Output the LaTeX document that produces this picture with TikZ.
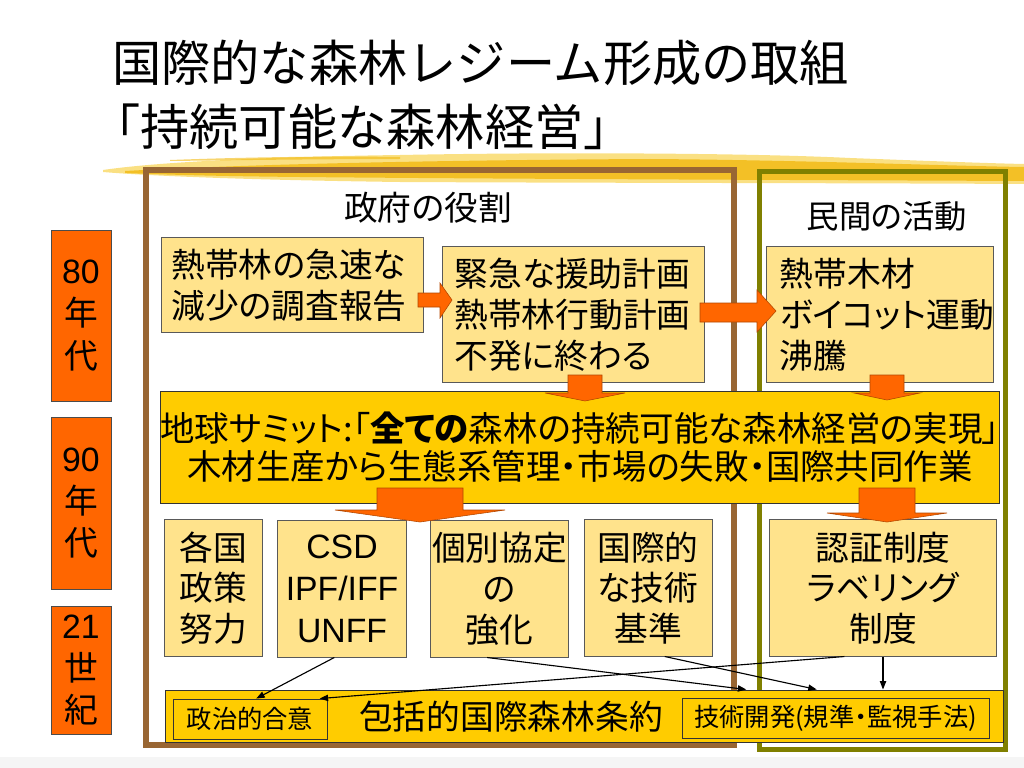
\documentclass[tikz,border=0pt]{standalone}
\usepackage{fontspec}
\setmainfont{Noto Sans CJK JP}[RawFeature=+palt]
\newfontfamily\titlefont{Noto Sans CJK JP}
\newfontfamily\latinfont{Liberation Sans}
\usepackage{tikz}
\usetikzlibrary{positioning}
\usetikzlibrary{calc,arrows.meta}
\definecolor{paleyel}{HTML}{FFE38C}
\definecolor{goldbar}{HTML}{FFCC00}
\definecolor{decorange}{HTML}{FF6600}
\definecolor{frmbrown}{HTML}{996633}
\definecolor{frmolive}{HTML}{808000}
\definecolor{brushgold}{HTML}{F2B90F}
\definecolor{brushlight}{HTML}{F8D65A}
\tikzset{
 ybox/.style={draw=black!65,fill=paleyel,line width=0.7pt,inner sep=0pt,
  font=\fontsize{24}{29}\selectfont},
 gbox/.style={draw=black!80,fill=goldbar,line width=0.7pt,inner sep=0pt},
 era/.style={draw=black!70,fill=decorange,line width=0.6pt,inner sep=0pt,
  minimum width=1.5cm,align=center,font=\fontsize{24}{30}\selectfont},
 blockarr/.style={fill=decorange,draw=decorange!70!black,line width=0.4pt},
 thinarr/.style={-{Triangle[length=6pt,width=4.5pt]},line width=0.8pt}
}

\begin{document}
\begin{tikzpicture}[x=0.025cm,y=-0.025cm]
 \useasboundingbox (0,0) rectangle (1024,768);
 \fill[black!4] (0,757) rectangle (1024,768);
 % title
 \node[anchor=west,inner sep=0pt,font=\titlefont\fontsize{35}{40}\selectfont] (title) at (112,63) {国際的な森林レジーム形成の取組};
 \node[anchor=west,inner sep=0pt,font=\titlefont\fontsize{35}{40}\selectfont] (subtitle) at (91,127) {「持続可能な森林経営」};
 % brush stroke
 \fill[brushlight,opacity=.75] (103,170) .. controls (150,163) and (250,157) .. (400,155) .. controls (550,152) and (750,153) .. (850,158) .. controls (930,161) and (980,163) .. (1024,164) -- (1024,184) .. controls (850,183) and (600,183) .. (400,182) .. controls (250,180) and (150,176) .. (103,172) -- cycle;
 \fill[brushgold,opacity=.8] (125,171) .. controls (250,164) and (450,160) .. (650,159) .. controls (800,160) and (950,166) .. (1024,167) -- (1024,181) .. controls (800,180) and (500,179) .. (300,177) .. controls (200,176) and (150,174) .. (125,173) -- cycle;
 \fill[brushgold,opacity=.6] (170,160) .. controls (250,157) and (330,156) .. (400,157) -- (400,159) .. controls (330,159) and (250,160) .. (170,161) -- cycle;
 % frames
 \draw[frmbrown,line width=4.3pt] (146,170) rectangle (734,745);
 \draw[frmolive,line width=3.6pt] (759.5,171.5) rectangle (1005.5,749.5);
 \node[font=\fontsize{24}{28}\selectfont] (govt) at (428,208) {政府の役割};
 \node[font=\fontsize{23}{28}\selectfont] (private) at (887,216) {民間の活動};
 % periods
 \node[era,minimum height=4.275cm] (eighties) at (81,315.5) {{\latinfont 80}\\年\\代};
 \node[era,minimum height=4.3cm] (nineties) at (81,503) {{\latinfont 90}\\年\\代};
 \node[era,minimum height=3.2cm] (century) at (81,670) {{\latinfont 21}\\世\\紀};
 % boxes
 \node[ybox,minimum width=6.525cm,minimum height=2.35cm,text width=6.05cm,align=left] (survey) at (292.5,285) {熱帯林の急速な\\減少の調査報告};
 \node[ybox,minimum width=6.525cm,minimum height=3.375cm,text width=5.95cm,align=left] (aidplan) at (573.5,314.5) {緊急な援助計画\\熱帯林行動計画\\不発に終わる};
 \node[ybox,minimum width=5.65cm,minimum height=3.375cm,text width=5.0cm,align=left] (boycott) at (880,314.5) {熱帯木材\\ボイコット運動\\沸騰};
 \node[gbox,minimum width=20.9cm,minimum height=2.775cm,align=center,font=\fontsize{24.5}{27}\selectfont] (summit) at (580,447.5) {地球サミット:「\textbf{全ての}森林の持続可能な森林経営の実現」\\木材生産から生態系管理・市場の失敗・国際共同作業};
 \node[ybox,minimum width=2.425cm,minimum height=3.4cm,align=center] (policy) at (213.5,588) {各国\\政策\\努力};
 \node[ybox,minimum width=3.2cm,minimum height=3.4cm,align=center,font=\latinfont\fontsize{24}{30}\selectfont] (csd) at (342,589) {CSD\\IPF/IFF\\UNFF};
 \node[ybox,minimum width=3.425cm,minimum height=3.4cm,align=center] (pact) at (499.5,589) {個別協定\\の\\強化};
 \node[ybox,minimum width=3.2cm,minimum height=3.4cm,align=center] (techstd) at (648,588) {国際的\\な技術\\基準};
 \node[ybox,minimum width=5.65cm,minimum height=3.4cm,align=center] (cert) at (883,588) {認証制度\\ラベリング\\制度};
 \node[gbox,minimum width=20.925cm,minimum height=1.3cm] (treaty) at (584.5,716) {};
 \node[font=\fontsize{24}{28}\selectfont] (treatylbl) at (511,717) {包括的国際森林条約};
 \node[draw=black!80,fill=goldbar,line width=0.6pt,inner sep=0pt,minimum width=3.85cm,minimum height=1cm,font=\fontsize{18}{20}\selectfont] (agree) at (250,719) {政治的合意};
 \node[draw=black!80,fill=goldbar,line width=0.6pt,inner sep=0pt,minimum width=7.675cm,minimum height=1cm,font=\fontsize{18}{20}\selectfont] (techdev) at (835.5,718) {技術開発(規準・監視手法)};
 % block arrows
 \draw[blockarr] (418,293) -- (440,293) -- (440,283) -- (452,300) -- (440,318) -- (440,307) -- (418,307) -- cycle;
 \draw[blockarr] (700,303) -- (757,303) -- (757,290) -- (776,311) -- (757,332) -- (757,322) -- (700,322) -- cycle;
 \foreach \cx/\sw/\hw/\ya/\yb/\yc in {585/17/40/375/393/401, 887/17/33/375/393/400, 420/43/85/488/510/522, 887/28/60/488/513/522}
  \draw[blockarr] (\cx-\sw,\ya) -- (\cx+\sw,\ya) -- (\cx+\sw,\yb) -- (\cx+\hw,\yb) -- (\cx,\yc) -- (\cx-\hw,\yb) -- (\cx-\sw,\yb) -- cycle;
 % thin arrows
 \draw[thinarr] ($(csd.south west)!.44!(csd.south east)$) -- ($(agree.north west)!.54!(agree.north east)$);
 \draw[thinarr] ($(cert.south west)!.33!(cert.south east)$) -- ($(agree.north west)!.95!(agree.north east)$);
 \draw[thinarr] ($(pact.south west)!.41!(pact.south east)$) -- ($(treaty.north west)!.693!(treaty.north east)$);
 \draw[thinarr] ($(techstd.south west)!.63!(techstd.south east)$) -- ($(treaty.north west)!.777!(treaty.north east)$);
 \draw[thinarr] (cert.south) -- (cert.south |- treaty.north);
\end{tikzpicture}
\end{document}
